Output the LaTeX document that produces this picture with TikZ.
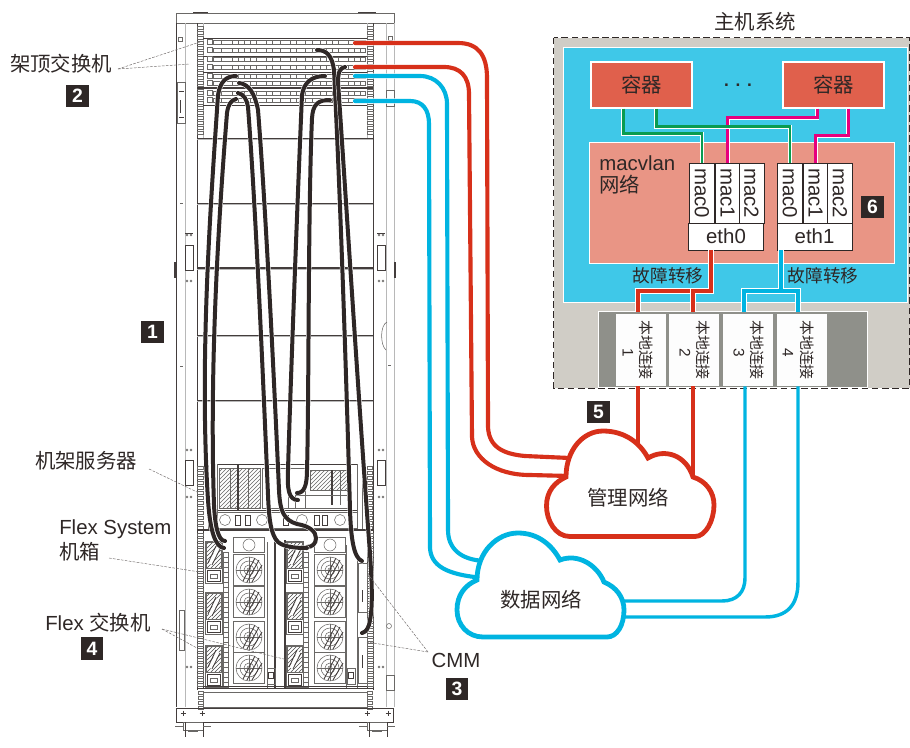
\documentclass[tikz,border=0pt]{standalone}
\usepackage{fontspec}
\setmainfont{Liberation Sans}
\newfontfamily\cjk{Noto Sans CJK SC}
\usetikzlibrary{patterns}
\definecolor{ink}{HTML}{2E2726}
\definecolor{netred}{HTML}{D7301A}
\definecolor{netblue}{HTML}{00B4E1}
\definecolor{hostgray}{HTML}{D0CDC6}
\definecolor{skyfill}{HTML}{3FC8E8}
\definecolor{ctrred}{HTML}{E0604C}
\definecolor{macfill}{HTML}{E99585}
\definecolor{panelgray}{HTML}{8F908A}
\definecolor{wgreen}{HTML}{0A9B50}
\definecolor{wpink}{HTML}{E6007E}
\definecolor{railgray}{HTML}{6A6866}
\tikzset{
 lab/.style={text=ink,inner sep=0pt,font=\fontsize{15.3}{18.5}\selectfont},
 cjklab/.style={text=ink,inner sep=0pt,font=\cjk\fontsize{15.3}{18.5}\selectfont},
 tag/.style={fill=ink,text=white,inner sep=0pt,minimum width=17pt,minimum height=16.8pt,font=\bfseries\fontsize{14.5}{15}\selectfont},
 whitebox/.style n args={2}{fill=white,draw=ink,line width=.7pt,inner sep=0pt,minimum width=#1*0.75pt,minimum height=#2*0.75pt},
 ctr/.style={fill=ctrred,draw=white,line width=.8pt,inner sep=0pt,minimum width=75.75pt,minimum height=34.5pt,font=\cjk\fontsize{15.3}{18}\selectfont,text=ink},
 lancell/.style={fill=white!96!hostgray,inner sep=0pt,minimum width=37.5pt,minimum height=54pt},
 wire/.style={draw=white,double=#1,double distance=2.1pt,line width=.45pt},
 bigwire/.style={draw=white,double=#1,double distance=3pt,line width=.45pt},
 longwire/.style={draw=white,double=#1,double distance=3.1pt,line width=.4pt,line cap=round},
 thinwire/.style={draw=#1,line width=2.6pt},
 cable/.style={draw=white,double=ink,double distance=3pt,line width=.35pt,line cap=round},
 leader/.style={draw=ink!70,line width=.35pt,dash pattern=on 2pt off 1pt},
 art/.style={draw=railgray,line width=.4pt},
 artd/.style={draw=ink!90,line width=.65pt},
 artl/.style={draw=black!28,line width=.6pt},
 cloudline/.style={draw=#1,fill=white,line width=3.6pt,line join=miter},
}
\newcommand\ladder[4]{\foreach \yy in {#2,#3,...,#4}{\draw[art,fill=white] (#1,\yy) rectangle ++(5.5,3.6);}}
\newcommand\portrow[1]{%
 \draw[art] (213,#1-2) rectangle (365,#1+2);
 \foreach \xx in {221,232,238,244,250,256,266,272,280,290,296,305,312,320,326,332,338,348,354,360}{\draw[art] (\xx,#1-2) -- (\xx,#1+2);}
 \draw[art,fill=white] (207,#1-2.5) rectangle (212,#1+2.5);}
\newcommand\fanunit[2]{%
 \draw[art,fill=white] (#1-15.5,#2-15.5) rectangle (#1+15.5,#2+15.5);
 \draw[art] (#1,#2) circle[radius=13] circle[radius=9] circle[radius=5] circle[radius=2];
 \draw[art] (#1-13,#2) -- (#1+13,#2) (#1,#2-13) -- (#1,#2+13);
 \draw[artd] (#1-6,#2+11) -- (#1+6,#2-12) (#1-2,#2+12) -- (#1+10,#2-10) (#1+3,#2+12) -- (#1+13,#2-5);}
\newcommand\psuunit[2]{%
 \draw[art,fill=white] (#1,#2) rectangle ++(17,42);
 \draw[art,pattern=north east lines,pattern color=black!70] (#1+1,#2+1) rectangle ++(15,26);
 \draw[draw=white,line width=2.4pt] (#1+5,#2+23) -- (#1+13,#2+7);
 \draw[artd] (#1+3,#2+22) -- (#1+11,#2+5) (#1+7,#2+24) -- (#1+15,#2+8);
 \draw[artd,fill=white] (#1+2,#2+29) rectangle ++(13,11);
 \draw[art] (#1+5,#2+33) rectangle ++(7,4);}
\newcommand\strip[2]{%
 \draw[art,fill=white] (#1,#2) rectangle ++(5,135);
 \foreach \yy in {0,5,...,132}{\draw[art] (#1,#2+\yy) -- ++(5,0);}}
\begin{document}
\begin{tikzpicture}[x=0.75pt,y=-0.75pt]
\useasboundingbox (0,0) rectangle (910,747);
% ------------- rack frame
\draw[art,line width=.6pt,fill=white] (176,13) rectangle (394,23);
\draw[artd,line width=.9pt] (193,12.5) -- (208,12.5) (358,12.5) -- (376,12.5);
\draw[artd] (176,23) -- (176,707);
\draw[artl] (394,23) -- (394,707);
\draw[artl] (185,23) -- (185,707) (386,23) -- (386,707);
\draw[artd] (197,23) -- (197,690) (373,23) -- (373,690);
\draw[artl] (203,23) -- (203,138) (367,23) -- (367,138);
\ladder{197.5}{26}{31}{135}
\ladder{367.5}{26}{31}{135}
\foreach \yy in {138,203,268,335,400}{
 \draw[artl,line width=1.2pt] (197,\yy+1.5) -- (373,\yy+1.5);
 \draw[artd] (197,\yy) -- (373,\yy);}
\draw[artd,line width=1.3pt] (197,268) -- (373,268);
% side brackets
\foreach \xa in {185,377}{
 \draw[artd] (\xa,245) rectangle ++(8,25);
 \draw[artd] (\xa,460) rectangle ++(8,25);
 \draw[artd] (\xa,233) -- ++(8,0);
 \foreach \yy in {235,281,450,497,667}{
  \draw[art] (\xa+2,\yy) circle[radius=1] (\xa+6,\yy) circle[radius=1];}}
\draw[artd,line width=.9pt] (175,262) -- (175,278) (395,262) -- (395,278);
\draw[art] (177,82) rectangle (185,123) (386,90) rectangle (394,106);
\draw[artd] (179,91) -- (184,91) (179,117) -- (184,117) (180,100) -- (180,113);
\draw[art] (178,37) rectangle (182,41);
\draw[art] (388,36) rectangle (392,40);
\draw[art] (180,203) -- (183,203) (388,365) -- (391,365);
\draw[art] (180,366) -- (183,366) (179,610) rectangle (184,650);
\draw[art] (387,322) .. controls (380,325) and (380,345) .. (386,350);
\draw[art] (389,626) circle[radius=2.5];
\draw[art] (386,675) rectangle (394,690);
% switches
\foreach \yy in {38,56,72,105}{\draw[artd] (203,\yy) -- (367,\yy);}
\draw[artd,line width=1.1pt] (197,88) -- (373,88);
\foreach \yy in {42,50,59,67,76,83,93,100}{\portrow{\yy}}
% server
\draw[artd] (217,464) -- (357,464);
\draw[art,pattern=north east lines,pattern color=black!60] (219,468) rectangle (260,508);
\draw[art,pattern=north east lines,pattern color=black!60] (310,470) rectangle (347,490);
\draw[art] (230,468) -- (230,508) (248,468) -- (248,508) (288,468) -- (288,508) (340,470) -- (340,505);
\draw[artd,line width=.9pt] (238,464) -- (238,510) (332,470) -- (332,505);
\draw[art] (262,468) rectangle (305,508);
\draw[art] (295,495) rectangle (350,508);
\draw[artd] (217,510) -- (357,510);
\draw[art] (217,512) rectangle (357,528);
\foreach \xx in {225,262,302,340}{\draw[art] (\xx,520) circle[radius=5.5];}
\foreach \xx in {235,245,283,314,322}{\draw[artd] (\xx,515) rectangle ++(5,10);}
\draw[art] (208,465) -- (208,530) (217,464) -- (217,530) (357,464) -- (357,530) (362,465) -- (362,530);
\ladder{197.5}{466}{471}{526}
\ladder{367}{466}{471}{526}
% chassis
\draw[artd,line width=1.2pt] (197,530) -- (373,530);
\draw[artd] (203,530) -- (203,688) (367,530) -- (367,688) (197,688) -- (373,688);
\ladder{197.5}{533}{538}{684}
\ladder{367.5}{533}{538}{684}
\ladder{198}{691}{696}{706}
\ladder{367}{691}{696}{706}
\foreach \xa in {205,286}{
 \psuunit{\xa}{541}\psuunit{\xa}{592}\psuunit{\xa}{645}}
\strip{223}{552}\strip{303}{552}
\foreach \xa in {249,330}{
 \draw[art,fill=white] (\xa-15.5,537) rectangle (\xa+15.5,552);
 \draw[art] (\xa,545) circle[radius=6];
 \foreach \yy in {570,602,637,668}{\fanunit{\xa}{\yy}}}
\draw[artd,line width=1pt] (275,540) -- (275,688) (285,540) -- (285,688);
\draw[art] (267,542) -- (267,688) (346,545) -- (346,688) (357,552) -- (357,688);
\foreach \xa in {267,347}{
 \draw[artd] (\xa+1,672) rectangle ++(5,6);
 \draw[art] (\xa,668) rectangle ++(8,16);}
\draw[art,fill=white] (358,563) rectangle (367,612) (358,637) rectangle (367,683);
\draw[artd] (362,590) -- (362,602) (362,655) -- (362,668);
\draw[artd] (203,686) -- (367,686);
% base
\draw[art] (203,692) rectangle (367,707);
\draw[artd] (176,708) rectangle (393,722);
\foreach \xx in {183,202,367,388}{
 \draw[artd] (\xx-2.5,713) -- (\xx+2.5,713) (\xx,710.5) -- (\xx,715.5);}
\foreach \xa in {183,367}{
 \draw[art] (\xa,722) rectangle ++(20,8);
 \draw[artd] (\xa+2,722) -- ++(0,15) (\xa+20,722) -- ++(0,15);
 \draw[art] (\xa-8,726) -- ++(8,0) (\xa+20,726) -- ++(8,0) (\xa+5,731) -- ++(10,0);}
% ------------- rack cables
\coordinate (swa) at (236,76);  \coordinate (flexa) at (224,548);
\coordinate (swb) at (236,99);  \coordinate (flexb) at (225,541);
\coordinate (swc) at (238,93);  \coordinate (flexc) at (307,548);
\coordinate (swd) at (239,83);  \coordinate (flexd) at (307,547);
\coordinate (swe) at (325,76);  \coordinate (srve) at (298,500);
\coordinate (swf) at (330,100); \coordinate (srvf) at (297,493);
\coordinate (swg) at (317,50);  \coordinate (cmma) at (362,561);
\coordinate (swh) at (345,67);  \coordinate (cmmb) at (362,633);
\draw[cable] (swa) .. controls (226,76) and (220,82) .. (218,95) .. controls (211,200) and (199,360) .. (208,500) .. controls (210,530) and (215,547) .. (flexa);
\draw[cable] (swb) .. controls (231,100) and (228,105) .. (227,113) .. controls (220,200) and (209,360) .. (214,505) .. controls (215,525) and (218,541) .. (flexb);
\draw[cable] (swd) .. controls (249,84) and (255,94) .. (258,110) .. controls (266,210) and (275,400) .. (279,490) .. controls (280,512) and (284,520) .. (297,524) .. controls (310,526) and (316,532) .. (316,538) .. controls (316,544) and (312,547) .. (flexd);
\draw[cable] (swc) .. controls (244,94) and (247,100) .. (248,107) .. controls (256,210) and (264,400) .. (268,495) .. controls (269,520) and (271,535) .. (278,542) .. controls (284,547) and (295,548) .. (flexc);
\draw[cable] (swe) .. controls (312,76) and (304,82) .. (302,95) .. controls (297,210) and (290,400) .. (288,470) .. controls (287,490) and (289,500) .. (srve);
\draw[cable] (swf) .. controls (318,100) and (313,104) .. (312,118) .. controls (308,210) and (309,400) .. (307,470) .. controls (307,486) and (304,493) .. (srvf);
\draw[cable] (swg) .. controls (327,50) and (332,56) .. (334,70) .. controls (341,210) and (347,400) .. (350,510) .. controls (351,540) and (354,558) .. (cmma);
\draw[cable] (swh) .. controls (340,68) and (338,72) .. (338,82) .. controls (346,200) and (360,420) .. (369,540) .. controls (372,580) and (373,605) .. (370,620) .. controls (369,628) and (366,632) .. (cmmb);
% ------------- leaders
\coordinate (topjoin) at (118,69);
\coordinate (srvjoin) at (149,469);
\coordinate (chjoin) at (109,558);
\coordinate (fxjoin) at (162,629);
\coordinate (cmjoin) at (428,652);
\draw[leader] (topjoin) -- (200,42);
\draw[leader] (topjoin) -- (190,64);
\draw[leader] (srvjoin) -- (197,492);
\draw[leader] (chjoin) -- (200,572);
\draw[leader] (fxjoin) -- (197,648);
\draw[leader] (fxjoin) -- (288,660);
\draw[leader] (cmjoin) -- (367,573);
\draw[leader] (cmjoin) -- (367,642);
% ------------- host system
\node[cjklab] (hosttitle) at (755,22) {主机系统};
\draw[draw=ink,line width=.7pt,dash pattern=on 5pt off 2.6pt,fill=hostgray] (553.5,37.5) rectangle (909.5,388);
\draw[fill=skyfill,draw=white,line width=.7pt] (563,47) rectangle (907,302);
\draw[fill=macfill,draw=white,line width=.7pt] (589,142) rectangle (894,263);
\node[ctr] (c1) at (641.5,85) {容器};
\node[ctr] (c2) at (833.5,85) {容器};
\node[lab,font=\bfseries\fontsize{13}{15}\selectfont] (dots) at (738,85) {.\hspace{5pt}.\hspace{5pt}.};
\node[lab,anchor=west] (mvl) at (599,163) {macvlan};
\node[cjklab,anchor=west] (mvl2) at (599,185) {网络};
\foreach \nm/\xc/\tx in {m00/702/mac0,m01/727.5/mac1,m02/751.5/mac2,m10/790/mac0,m11/815.5/mac1,m12/840/mac2}{
 \node[whitebox={25}{60}] (\nm) at (\xc,193) {};
 \node[lab,rotate=-90] at (\xc,193) {\tx};}
\node[whitebox={74.5}{27}] (e0) at (726,236.5) {};
\node[lab] at (e0) {eth0};
\node[whitebox={75}{27}] (e1) at (814.5,236.5) {};
\node[lab] at (e1) {eth1};
\node[tag] (t6) at (872.5,207) {6};
% internal wires
\draw[wire=wgreen] (c1.south west) ++(33,0) -- ++(0,25) -| (m00.north);
\draw[wire=wpink] (c2.south west) ++(35,0) -- ++(0,9) -| (m01.north);
\draw[wire=wgreen] (c1.south west) ++(66,0) -- ++(0,18) -| (m10.north);
\draw[wire=wpink] (c2.south west) ++(66,0) -- ++(0,27) -| (m11.north);
\node[cjklab,font=\cjk\fontsize{13.3}{15}\selectfont] (fo0) at (668,276) {故障转移};
\node[cjklab,font=\cjk\fontsize{13.3}{15}\selectfont] (fo1) at (823,276) {故障转移};
% panel
\draw[fill=panelgray,draw=white,line width=.7pt] (598,311) rectangle (867,387);
\foreach \nm/\xc/\tx/\xt/\xn/\num in {l1/641/1/646/628/1,l2/694/2/703/685/2,l3/748/3/757/739/3,l4/802/4/807/788/4}{
 \node[lancell] (\nm) at (\xc,350) {};
 \node[cjklab,rotate=-90,font=\cjk\fontsize{11.2}{13}\selectfont] at (\xt,350) {本地连接};
 \node[lab,rotate=-90,font=\fontsize{11.5}{13}\selectfont] at (\xn,353) {\num};}
\coordinate (la) at (638,312); \coordinate (lb) at (693,312);
\coordinate (lc) at (744,312); \coordinate (ld) at (798,312);
\draw[bigwire=netred] (la) |- (711,291) -- (711,250);
\draw[bigwire=netred] (lb) |- (711,291);
\draw[bigwire=netblue] (lc) |- (781,291) -- (781,250);
\draw[bigwire=netblue] (ld) |- (781,291);
\draw[draw=netred,line width=3.6pt] (711,251) -- (711,290);
\draw[draw=netblue,line width=3.6pt] (781,251) -- (781,290);
% ------------- external wires
\coordinate (sr1) at (355,43); \coordinate (sr2) at (355,67);
\coordinate (sb1) at (355,76); \coordinate (sb2) at (355,101);
\coordinate (mg1) at (570,458); \coordinate (mg2) at (570,476);
\coordinate (dn1) at (485,561); \coordinate (dn2) at (485,578);
\draw[longwire=netred] (sr1) -- (458,43) .. controls (478,43) and (487,55) .. (487,78) -- (488,427) .. controls (489,447) and (503,454) .. (525,456) -- (mg1);
\draw[longwire=netred] (sr2) -- (444,67) .. controls (460,67) and (469,76) .. (469,94) -- (472,437) .. controls (473,458) and (495,475) .. (530,475) -- (mg2);
\draw[longwire=netblue] (sb1) -- (420,76) .. controls (436,76) and (447,88) .. (447,104) -- (448,530) .. controls (448,548) and (460,560) .. (dn1);
\draw[longwire=netblue] (sb2) -- (410,101) .. controls (423,101) and (429,110) .. (429,124) -- (430,548) .. controls (431,565) and (445,575) .. (dn2);
\coordinate (ma) at (638,445); \coordinate (mb) at (693,482);
\draw[thinwire=netred] (l1.south -| la) -- (ma);
\draw[thinwire=netred] (l2.south -| lb) -- (mb);
\coordinate (db) at (615,601); \coordinate (dc) at (615,617);
\draw[thinwire=netblue] (l3.south -| 745,0) -- (745,578) .. controls (745,592) and (737,601) .. (722,601) -- (db);
\draw[thinwire=netblue] (l4.south -| 798,0) -- (798,582) .. controls (798,605) and (787,617) .. (765,617) -- (dc);
% ------------- clouds
\draw[cloudline=netred] (570,536.5) .. controls (555,536.5) and (546.5,520) .. (546.5,506) .. controls (546.5,491) and (555,482) .. (566,477) .. controls (566,450) and (583,431) .. (603,431) .. controls (625,431) and (640,443) .. (648,458) .. controls (665,448) and (686,455) .. (693,477) .. controls (706,481) and (714,492) .. (714,505) .. controls (714,520) and (706,536.5) .. (695,536.5) -- cycle;
\draw[cloudline=netblue] (483,637) .. controls (468,637) and (457,625) .. (457,610) .. controls (457,595) and (465,585) .. (477,580) .. controls (477,552) and (497,533) .. (518,533) .. controls (538,533) and (552,545) .. (560,560) .. controls (578,553) and (597,565) .. (604,582) .. controls (616,587) and (624,597) .. (624,610) .. controls (624,625) and (617,637) .. (607,637) -- cycle;
\node[cjklab] (mgmt) at (628,498) {管理网络};
\node[cjklab] (data) at (541,600) {数据网络};
% ------------- labels
\node[cjklab] (toplab) at (61,64) {架顶交换机};
\node[cjklab] (srvlab) at (86,461) {机架服务器};
\node[lab,anchor=west] (fslab) at (59,529) {Flex System};
\node[cjklab,anchor=west] (fslab2) at (59,552) {机箱};
\node[lab,anchor=west] (fxlab) at (45,623) {Flex {\cjk 交换机}};
\node[lab] (cmmlab) at (456,660) {CMM};
\node[tag] (t1) at (152.5,332) {1};
\node[tag] (t2) at (77.5,96) {2};
\node[tag] (t3) at (457,689) {3};
\node[tag] (t4) at (92,648.5) {4};
\node[tag] (t5) at (598.5,412) {5};
\end{tikzpicture}
\end{document}
